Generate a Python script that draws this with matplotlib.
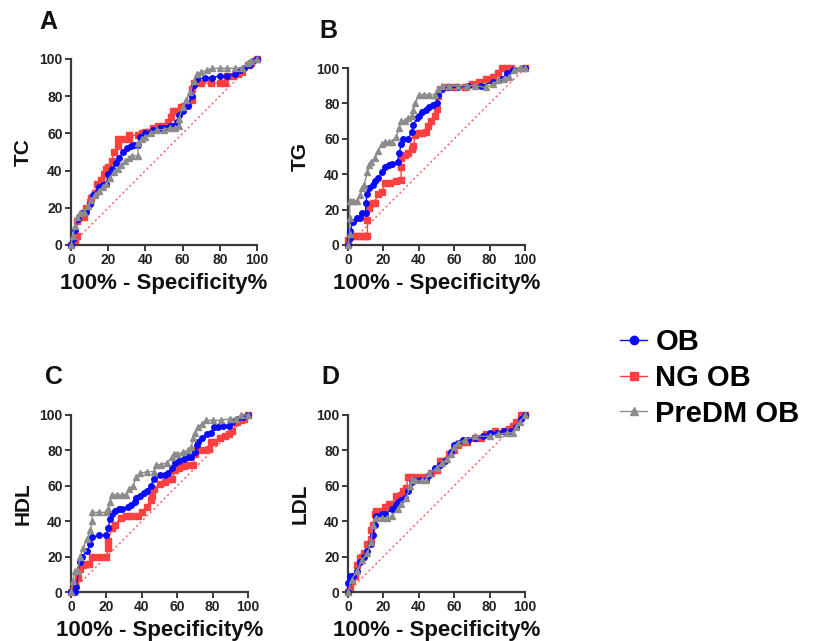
import matplotlib
matplotlib.use("Agg")
import matplotlib.pyplot as plt
from matplotlib.lines import Line2D

plt.rcParams['font.family'] = ['Liberation Sans', 'DejaVu Sans']
plt.rcParams['font.weight'] = 'bold'

# ---------------- data ----------------
series_names = ["OB", "NG OB", "PreDM OB"]
panel_letters = ["A", "B", "C", "D"]
panel_ylabels = ["TC", "TG", "HDL", "LDL"]
xlabel_text = "100% - Specificity%"
tick_values = [0, 20, 40, 60, 80, 100]

# Panel A (TC)
A_x_OB = [0, 1, 2, 4, 6, 8, 10, 12, 15, 17, 19, 20, 22, 24, 26, 28, 30, 32, 34, 36, 37, 40, 44, 48, 50, 53, 55, 57, 58, 60, 63, 65, 66, 68, 72, 76, 80, 84, 88, 91, 93, 96, 98, 100]
A_y_OB = [0, 3, 8, 14, 17, 18, 22, 27, 31, 32, 33, 38, 41, 44, 47, 50, 52, 53, 54, 54, 58, 60, 62, 63, 63, 64, 64, 66, 70, 72, 75, 80, 86, 89, 90, 90, 91, 91, 92, 94, 95, 97, 99, 100]
A_x_NG = [0, 2, 3, 3, 5, 7, 8, 10, 11, 13, 14, 16, 18, 19, 20, 22, 23, 25, 25, 28, 31, 31, 36, 38, 40, 42, 44, 47, 49, 52, 54, 55, 57, 59, 61, 63, 65, 65, 66, 70, 75, 80, 83, 84, 87, 90, 92, 95, 97, 100]
A_y_NG = [0, 2, 5, 13, 15, 15, 20, 23, 25, 28, 33, 35, 38, 41, 42, 45, 50, 53, 57, 57, 57, 59, 59, 60, 61, 61, 63, 64, 64, 66, 69, 72, 72, 74, 75, 76, 78, 84, 87, 87, 87, 87, 87, 91, 91, 92, 93, 97, 98, 100]
A_x_PD = [0, 1, 2, 3, 5, 7, 9, 11, 13, 15, 17, 19, 21, 23, 25, 27, 29, 31, 33, 36, 36, 38, 40, 43, 46, 50, 53, 56, 58, 58, 60, 62, 64, 66, 68, 70, 73, 76, 80, 84, 88, 92, 95, 97, 100]
A_y_PD = [0, 5, 10, 15, 17, 18, 21, 24, 27, 29, 31, 33, 36, 39, 41, 43, 45, 47, 48, 48, 55, 57, 58, 60, 62, 62, 63, 63, 64, 68, 74, 78, 82, 88, 92, 93, 94, 95, 95, 95, 95, 95, 98, 99, 100]

# Panel B (TG)
B_x_OB = [0, 1, 1, 3, 5, 7, 8, 10, 10, 11, 12, 14, 15, 17, 19, 21, 23, 25, 28, 29, 30, 31, 34, 36, 37, 39, 40, 42, 44, 46, 48, 50, 51, 53, 57, 62, 68, 75, 82, 87, 90, 93, 100]
B_y_OB = [0, 4, 8, 13, 15, 15, 18, 18, 24, 29, 32, 34, 36, 38, 41, 44, 45, 46, 47, 52, 57, 60, 60, 64, 68, 72, 73, 75, 76, 78, 79, 80, 85, 88, 89, 89, 90, 90, 92, 94, 97, 99, 100]
B_x_NG = [0, 0, 1, 3, 5, 7, 9, 10, 11, 11, 12, 14, 15, 17, 19, 21, 24, 27, 30, 30, 30, 32, 34, 36, 37, 38, 40, 42, 44, 45, 47, 49, 50, 51, 52, 55, 60, 66, 70, 74, 78, 82, 85, 87, 89, 92, 100]
B_y_NG = [0, 3, 5, 5, 5, 5, 5, 5, 5, 14, 21, 24, 24, 29, 30, 35, 35, 36, 37, 44, 49, 51, 52, 54, 56, 62, 63, 63, 64, 67, 70, 73, 77, 84, 88, 89, 89, 89, 91, 92, 94, 95, 97, 100, 100, 100, 100]
B_x_PD = [0, 1, 1, 1, 3, 5, 7, 8, 9, 11, 12, 13, 15, 17, 19, 21, 23, 25, 27, 29, 30, 32, 34, 36, 37, 38, 40, 43, 46, 49, 51, 53, 57, 62, 67, 72, 78, 82, 85, 88, 91, 94, 97, 100]
B_y_PD = [0, 6, 15, 25, 25, 25, 28, 32, 34, 41, 45, 47, 49, 53, 57, 58, 58, 58, 61, 66, 70, 70, 72, 73, 76, 80, 85, 85, 85, 85, 88, 90, 90, 90, 90, 90, 89, 91, 93, 94, 95, 99, 100, 100]

# Panel C (HDL)
C_x_OB = [0, 2, 3, 5, 6, 9, 11, 12, 16, 20, 21, 22, 23, 25, 27, 29, 32, 34, 36, 37, 39, 41, 43, 45, 47, 50, 53, 55, 57, 59, 61, 64, 66, 68, 70, 71, 72, 74, 77, 79, 81, 83, 86, 89, 91, 94, 97, 100]
C_y_OB = [0, 0, 3, 17, 20, 23, 27, 31, 32, 32, 36, 41, 44, 46, 47, 47, 48, 49, 51, 53, 54, 56, 57, 60, 64, 66, 66, 67, 70, 73, 74, 75, 76, 76, 79, 83, 85, 87, 89, 90, 93, 93, 94, 94, 96, 98, 99, 100]
C_x_NG = [0, 1, 2, 4, 5, 7, 9, 10, 12, 16, 20, 21, 21, 23, 25, 28, 31, 34, 38, 40, 43, 45, 46, 47, 50, 53, 56, 57, 59, 61, 64, 66, 69, 70, 71, 75, 78, 79, 81, 84, 87, 89, 91, 94, 96, 98, 100]
C_y_NG = [0, 2, 4, 8, 13, 15, 16, 16, 20, 20, 20, 25, 29, 36, 38, 42, 43, 43, 43, 45, 48, 52, 54, 58, 61, 62, 64, 64, 69, 70, 71, 72, 72, 78, 80, 80, 81, 85, 85, 87, 88, 89, 91, 96, 97, 98, 100]
C_x_PD = [0, 1, 2, 4, 5, 7, 9, 11, 12, 12, 16, 20, 21, 22, 23, 26, 29, 31, 33, 35, 37, 39, 43, 47, 48, 51, 54, 57, 58, 60, 63, 66, 68, 69, 70, 72, 74, 76, 80, 85, 90, 93, 96, 100]
C_y_PD = [0, 6, 12, 12, 20, 25, 30, 35, 40, 45, 45, 45, 47, 51, 55, 55, 55, 55, 58, 60, 65, 67, 68, 68, 72, 72, 73, 76, 78, 78, 79, 80, 82, 87, 90, 93, 95, 97, 97, 97, 98, 98, 100, 100]

# Panel D (LDL)
D_x_OB = [0, 0, 1, 3, 5, 7, 9, 11, 13, 14, 15, 16, 19, 21, 25, 27, 28, 30, 32, 34, 36, 38, 41, 44, 46, 49, 52, 55, 58, 60, 62, 65, 68, 72, 76, 80, 84, 88, 92, 95, 98, 100]
D_y_OB = [0, 5, 9, 9, 12, 17, 20, 23, 27, 32, 38, 43, 44, 44, 47, 49, 51, 52, 53, 57, 62, 63, 63, 63, 66, 70, 72, 74, 79, 83, 84, 86, 86, 87, 88, 90, 90, 91, 91, 93, 98, 100]
D_x_NG = [0, 1, 2, 4, 5, 7, 8, 9, 11, 13, 13, 14, 15, 16, 19, 21, 23, 25, 27, 30, 31, 33, 34, 36, 40, 44, 47, 50, 52, 53, 57, 60, 62, 65, 67, 72, 75, 78, 83, 88, 91, 93, 95, 98, 100]
D_y_NG = [0, 2, 6, 9, 15, 19, 20, 22, 27, 30, 35, 38, 44, 46, 46, 48, 50, 50, 54, 55, 57, 59, 65, 65, 65, 65, 67, 69, 74, 74, 78, 80, 83, 85, 85, 87, 87, 89, 91, 91, 92, 94, 96, 100, 100]
D_x_PD = [0, 2, 5, 8, 11, 13, 14, 16, 19, 22, 25, 28, 30, 33, 35, 36, 38, 42, 44, 46, 50, 53, 56, 58, 60, 62, 66, 72, 80, 85, 90, 93, 95, 97, 100]
D_y_PD = [0, 7, 12, 18, 22, 28, 38, 42, 42, 42, 43, 47, 50, 53, 60, 63, 63, 63, 63, 67, 70, 73, 75, 78, 82, 84, 86, 88, 88, 89, 90, 90, 93, 96, 100]

panels = [
    (A_x_OB, A_y_OB, A_x_NG, A_y_NG, A_x_PD, A_y_PD),
    (B_x_OB, B_y_OB, B_x_NG, B_y_NG, B_x_PD, B_y_PD),
    (C_x_OB, C_y_OB, C_x_NG, C_y_NG, C_x_PD, C_y_PD),
    (D_x_OB, D_y_OB, D_x_NG, D_y_NG, D_x_PD, D_y_PD),
]

# ---------------- style ----------------
c_ob = "#0a0aff"
c_ng = "#ff4040"
c_pd = "#8c8c8c"
axis_col = "#3a3a3a"

W, H = 814, 641
fig = plt.figure(figsize=(W / 100, H / 100), dpi=100)

# axes boxes in pixels: left, top, right, bottom
boxes = [(71, 59, 257, 245), (348, 68, 525, 245), (71, 415, 248, 592), (348, 415, 525, 592)]
letter_pos = [(48, 22), (328, 31), (54, 377), (330, 377)]

for i, (box, data) in enumerate(zip(boxes, panels)):
    l, t, r, b = box
    ax = fig.add_axes([l / W, 1 - b / H, (r - l) / W, (b - t) / H])
    xo, yo, xn, yn, xp, yp = data
    ax.plot([0, 100], [0, 100], color="#ff5a5a", lw=1.0, ls=(0, (1.5, 2)), zorder=1)
    ax.plot(xn, yn, color=c_ng, lw=1.0, marker="s", ms=5, mec=c_ng, mfc=c_ng, clip_on=False, zorder=2)
    ax.plot(xo, yo, color=c_ob, lw=1.0, marker="o", ms=4, mec=c_ob, mfc=c_ob, clip_on=False, zorder=3)
    ax.plot(xp, yp, color=c_pd, lw=1.0, marker="^", ms=4.5, mec=c_pd, mfc=c_pd, clip_on=False, zorder=4)
    ax.set_xlim(0, 100)
    ax.set_ylim(0, 100)
    ax.set_xticks(tick_values)
    ax.set_yticks(tick_values)
    for s in ["top", "right"]:
        ax.spines[s].set_visible(False)
    for s in ["left", "bottom"]:
        ax.spines[s].set_color(axis_col)
        ax.spines[s].set_linewidth(1.6)
    ax.tick_params(direction="out", length=4, width=1.4, color=axis_col, labelsize=10, pad=2, labelcolor="#222222")
    for lab in ax.get_xticklabels() + ax.get_yticklabels():
        lab.set_fontweight("bold")
    ax.set_xlabel(xlabel_text, fontsize=16, fontweight="bold", labelpad=4, color="#111111")
    ax.set_ylabel(panel_ylabels[i], fontsize=15, fontweight="bold", labelpad=5, color="#111111")
    lx, ly = letter_pos[i]
    fig.text(lx / W, 1 - ly / H, panel_letters[i], fontsize=18, fontweight="bold", ha="center", va="center", color="#111111")

leg_handles = [
    Line2D([0], [0], color=c_ob, lw=1.0, marker="o", ms=6, mfc=c_ob, mec=c_ob),
    Line2D([0], [0], color=c_ng, lw=1.0, marker="s", ms=6, mfc=c_ng, mec=c_ng),
    Line2D([0], [0], color=c_pd, lw=1.0, marker="^", ms=6, mfc=c_pd, mec=c_pd),
]
fig.legend(leg_handles, series_names, loc="upper left", bbox_to_anchor=(600 / W, 1 - 308 / H),
           frameon=False, prop={"weight": "bold", "size": 21}, handlelength=0.9,
           handletextpad=0.3, labelspacing=0.26, borderpad=0.2)

fig.savefig("out.png", dpi=100)
